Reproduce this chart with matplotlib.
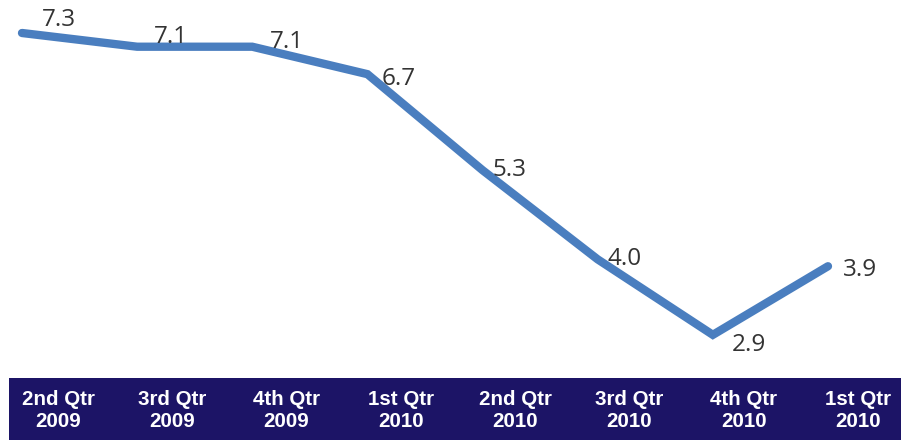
import matplotlib
matplotlib.use("Agg")
import matplotlib.pyplot as plt

categories = ["2nd Qtr\n2009", "3rd Qtr\n2009", "4th Qtr\n2009", "1st Qtr\n2010",
              "2nd Qtr\n2010", "3rd Qtr\n2010", "4th Qtr\n2010", "1st Qtr\n2010"]
values = [7.3, 7.1, 7.1, 6.7, 5.3, 4.0, 2.9, 3.9]
value_labels = ["7.3", "7.1", "7.1", "6.7", "5.3", "4.0", "2.9", "3.9"]

# label offsets in pixels (dx, dy) relative to each point
offsets = [(37, 13), (34, 10), (35, 5), (31, -5), (27, 0), (27, 0), (36, -10), (32, -4)]

W, H = 901, 440
fig = plt.figure(figsize=(W / 100, H / 100), dpi=100)
fig.patch.set_facecolor("white")

ax = fig.add_axes([0, 0, 1, 1])
step = 115.14
x0 = 22
ax.set_xlim(-x0 / step, (W - x0) / step)
pxu = 68.6
ytop = 33
ax.set_ylim(values[0] - (H - ytop) / pxu, values[0] + ytop / pxu)
ax.axis("off")
xs = list(range(len(values)))
ax.plot(xs, values, color="#4a7ebf", linewidth=6, solid_capstyle="round",
        solid_joinstyle="miter", zorder=3)
for i, (v, t) in enumerate(zip(values, value_labels)):
    dx, dy = offsets[i]
    ax.annotate(t, (i, v), xytext=(dx, dy), textcoords="offset pixels",
                ha="center", va="center", fontsize=17.5, color="#333333",
                family="Open Sans", zorder=4)

bx0 = 9
band = fig.add_axes([bx0 / W, 0, 1 - bx0 / W, 62 / H])
band.set_facecolor("#1c1466")
lstep = 114.3
lc0 = 58
band.set_xlim((bx0 - lc0) / lstep, (W - lc0) / lstep)
band.set_ylim(0, 1)
for s in band.spines.values():
    s.set_visible(False)
band.set_xticks([])
band.set_yticks([])
for i, c in enumerate(categories):
    band.text(i, 0.47, c, ha="center", va="center", color="white",
              fontsize=14.8, fontweight="bold", family="Liberation Sans",
              linespacing=1.2)

fig.savefig("out.png", dpi=100, facecolor="white")
